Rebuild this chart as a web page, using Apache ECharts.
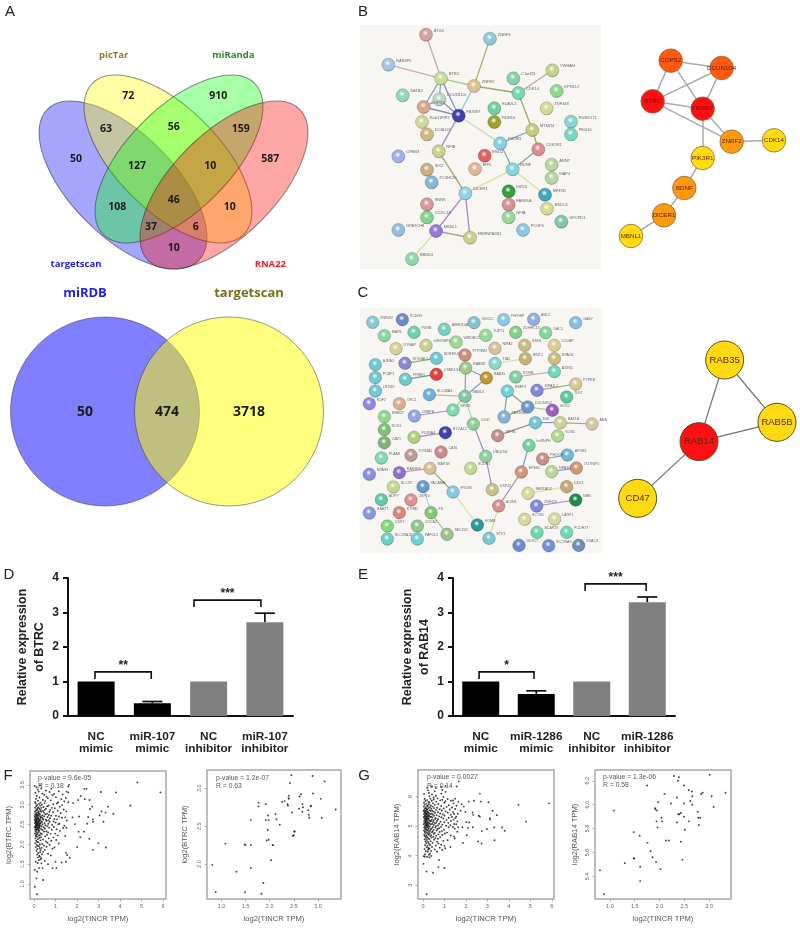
<!DOCTYPE html>
<html><head><meta charset="utf-8">
<style>html,body{margin:0;padding:0;background:#fff}#c{width:800px;height:929px;filter:blur(0.4px)}</style>
<script src="https://cdn.jsdelivr.net/npm/echarts@6/dist/echarts.min.js"></script>
</head><body><div id="c"></div>
<script>
// ---------- DATA ----------
const panelLetters = ['A','B','C','D','E','F','G'];
const venn4Names = ['targetscan','picTar','miRanda','RNA22'];
const venn4Values = [72,910,63,56,159,50,127,10,587,46,108,10,37,6,10];
const venn2Names = ['miRDB','targetscan'];
const venn2Values = [50,474,3718];

const barCatsD = ['NC\nmimic','miR-107\nmimic','NC\ninhibitor','miR-107\ninhibitor'];
const barValsD = [1,0.37,1,2.72];
const barErrD  = [null,0.42,null,2.98];
const barCatsE = ['NC\nmimic','miR-1286\nmimic','NC\ninhibitor','miR-1286\ninhibitor'];
const barValsE = [1,0.64,1,3.3];
const barErrE  = [null,0.73,null,3.45];
const starsD = ['**','***'];
const starsE = ['*','***'];
const bracketsD = [[-0.02,0.98,1.28,1.07],[1.74,2.93,3.36,3.16]];
const bracketsE = [[-0.03,0.96,1.28,1.07],[1.88,2.98,3.83,3.62]];

const statsF1 = ['p-value = 9.6e-05','R = 0.18'];
const statsF2 = ['p-value = 1.2e-07','R = 0.63'];
const statsG1 = ['p-value = 0.0027','R = 0.14'];
const statsG2 = ['p-value = 1.3e-06','R = 0.58'];

const f1Sparse = [[4.81,3.56],[5.88,3.31],[3.81,3.31],[3.11,3.32],[2.33,3.40],[2.44,3.40],[2.17,3.22],[4.48,2.98],[3.45,2.95],[3.69,2.77],[3.33,2.80],[3.14,2.83],[3.05,2.73],[3.23,2.57],[2.74,2.57],[2.74,2.63],[2.52,2.69],[2.60,2.89],[2.71,2.95],[2.58,3.12],[2.36,3.14],[2.05,3.12],[1.82,3.04],[1.59,3.06],[1.63,3.50],[1.59,3.46],[1.51,3.33],[1.59,3.31],[2.10,2.70],[1.79,2.68],[2.47,2.52],[1.90,2.51],[2.32,2.32],[2.07,2.32],[2.15,2.18],[2.57,2.14],[2.99,2.03],[3.34,1.92],[2.01,1.93],[2.74,1.86],[1.49,1.79],[1.54,1.73],[1.66,1.66],[1.48,1.56],[1.28,1.54],[1.00,1.56],[1.04,1.40],[0.86,1.40],[0.65,1.50],[0.39,1.40],[0.23,1.40],[0.42,1.10],[0.11,1.14],[0.03,0.93],[0.14,0.74],[0.03,1.35],[0.14,1.31],[0.34,1.52]];
const f1Dense = [[0.03,3.47],[0.12,3.44],[0.28,3.49],[0.17,3.38],[0.33,3.41],[0.55,3.36],[0.8,3.4],[0.06,3.3],[0.22,3.33],[0.38,3.28],[0.72,3.32],[0.93,3.27],[1.15,3.34],[0.13,3.22],[0.47,3.25],[0.58,3.2],[0.85,3.24],[1.33,3.26],[0.09,3.15],[0.25,3.18],[0.41,3.12],[0.64,3.16],[1.02,3.19],[1.27,3.14],[1.48,3.17],[0.05,3.07],[0.18,3.1],[0.3,3.05],[0.52,3.09],[0.78,3.11],[1.12,3.06],[1.41,3.08],[0.07,3.03],[0.14,2.99],[0.23,3.02],[0.36,3.0],[0.49,3.04],[0.68,2.98],[0.9,3.01],[1.06,3.03],[1.31,2.99],[0.1,2.96],[0.2,2.93],[0.28,2.97],[0.44,2.94],[0.61,2.96],[0.83,2.92],[1.2,2.95],[0.05,2.92],[0.12,2.88],[0.17,2.91],[0.26,2.89],[0.34,2.92],[0.55,2.9],[0.75,2.87],[0.97,2.91],[1.38,2.88],[0.08,2.85],[0.15,2.87],[0.22,2.83],[0.31,2.86],[0.42,2.84],[0.5,2.87],[0.71,2.82],[1.1,2.85],[1.5,2.83],[0.04,2.82],[0.1,2.79],[0.18,2.81],[0.25,2.78],[0.33,2.82],[0.46,2.8],[0.6,2.77],[0.88,2.81],[1.24,2.79],[0.06,2.76],[0.13,2.74],[0.2,2.77],[0.27,2.75],[0.38,2.73],[0.52,2.76],[0.69,2.74],[1.02,2.72],[0.03,2.71],[0.09,2.73],[0.15,2.69],[0.22,2.72],[0.29,2.7],[0.36,2.68],[0.47,2.71],[0.63,2.69],[0.8,2.72],[1.16,2.7],[1.45,2.68],[0.05,2.67],[0.11,2.64],[0.17,2.66],[0.24,2.63],[0.31,2.67],[0.41,2.65],[0.55,2.62],[0.74,2.66],[0.95,2.64],[1.3,2.67],[0.03,2.62],[0.08,2.59],[0.14,2.61],[0.19,2.63],[0.26,2.6],[0.34,2.58],[0.43,2.62],[0.58,2.59],[0.67,2.61],[0.9,2.58],[1.07,2.63],[1.52,2.6],[0.06,2.56],[0.1,2.58],[0.16,2.55],[0.21,2.57],[0.28,2.54],[0.37,2.56],[0.49,2.53],[0.72,2.57],[1.0,2.55],[1.18,2.52],[0.04,2.53],[0.09,2.5],[0.13,2.52],[0.18,2.49],[0.24,2.51],[0.3,2.53],[0.39,2.5],[0.53,2.48],[0.66,2.52],[0.84,2.49],[1.12,2.51],[1.41,2.47],[0.07,2.47],[0.12,2.45],[0.17,2.48],[0.23,2.44],[0.27,2.47],[0.35,2.45],[0.45,2.43],[0.62,2.46],[0.92,2.44],[1.5,2.42],[0.03,2.43],[0.08,2.41],[0.15,2.43],[0.2,2.39],[0.26,2.41],[0.33,2.38],[0.5,2.4],[0.7,2.42],[1.05,2.38],[1.36,2.41],[0.05,2.37],[0.11,2.35],[0.18,2.38],[0.24,2.34],[0.4,2.36],[0.57,2.33],[0.82,2.37],[1.2,2.34],[0.07,2.32],[0.13,2.29],[0.21,2.31],[0.3,2.28],[0.46,2.32],[0.65,2.3],[0.98,2.27],[0.04,2.27],[0.1,2.24],[0.16,2.26],[0.27,2.23],[0.36,2.26],[0.6,2.24],[0.77,2.27],[1.1,2.22],[0.08,2.21],[0.14,2.19],[0.22,2.22],[0.33,2.18],[0.52,2.2],[0.9,2.17],[1.45,2.21],[0.06,2.15],[0.18,2.13],[0.25,2.16],[0.42,2.12],[0.68,2.15],[1.03,2.11],[0.1,2.09],[0.15,2.06],[0.3,2.1],[0.55,2.07],[0.8,2.09],[0.05,2.03],[0.2,2.05],[0.38,2.01],[0.62,2.04],[1.15,2.02],[0.12,1.99],[0.17,1.96],[0.27,2.0],[0.46,1.97],[0.72,1.99],[0.08,1.93],[0.22,1.95],[0.35,1.91],[0.58,1.94],[0.95,1.92],[0.15,1.88],[0.26,1.9],[0.5,1.86],[0.85,1.89],[0.11,1.83],[0.3,1.85],[0.42,1.81],[0.19,1.78],[0.28,1.8],[0.65,1.76],[0.14,1.74],[0.24,1.71],[0.37,1.75],[0.78,1.72],[0.18,1.67],[0.27,1.69],[0.33,1.65],[0.22,1.6],[0.3,1.62],[0.5,1.58],[0.08,1.56],[0.17,1.53],[0.16,2.74],[0.12,2.7],[0.2,2.66],[0.09,2.65],[0.14,2.56],[0.19,2.53],[0.11,2.48],[0.22,2.46],[0.06,2.44],[0.16,2.42],[0.12,2.38],[0.21,2.36],[0.07,2.6],[0.24,2.59],[0.29,2.62],[0.1,2.54],[0.26,2.5]];
const f2Points = [[2.45,3.17],[2.89,3.16],[2.42,3.07],[3.14,3.09],[2.90,2.93],[2.40,2.90],[2.65,2.92],[2.62,2.89],[3.06,2.86],[2.40,2.86],[2.39,2.87],[2.31,2.83],[2.26,2.82],[2.37,2.79],[2.38,2.77],[1.77,2.81],[1.77,2.76],[1.92,2.79],[2.68,2.79],[2.86,2.77],[2.85,2.76],[2.61,2.73],[2.69,2.75],[2.80,2.71],[2.68,2.69],[3.37,2.72],[2.46,2.68],[2.12,2.66],[2.81,2.65],[2.82,2.61],[1.97,2.64],[1.92,2.58],[1.98,2.58],[1.61,2.58],[2.14,2.59],[3.08,2.61],[2.21,2.52],[1.96,2.45],[2.52,2.43],[2.51,2.43],[2.50,2.38],[2.48,2.37],[1.98,2.32],[1.94,2.31],[1.08,2.27],[1.48,2.26],[1.50,2.25],[1.61,2.25],[2.06,2.25],[2.07,2.25],[2.03,2.05],[0.81,1.99],[1.31,1.90],[1.61,1.95],[1.87,1.75],[0.88,1.63],[1.49,1.63],[1.83,1.61]];
const g1Sparse = [[5.87,5.77],[4.45,5.72],[4.80,5.15],[2.65,6.10],[1.67,6.51],[1.57,6.34],[3.05,5.81],[2.37,5.86],[2.13,5.83],[2.69,5.83],[3.24,5.52],[3.44,5.37],[3.12,5.27],[3.12,5.22],[2.65,5.32],[2.60,5.35],[2.31,5.46],[2.34,5.38],[1.98,5.48],[2.02,5.14],[2.15,5.12],[1.84,4.96],[1.64,4.96],[2.09,4.94],[2.32,4.96],[2.74,4.83],[2.98,4.90],[3.32,4.95],[3.69,4.95],[3.80,4.84],[2.04,4.69],[3.33,4.52],[1.87,4.43],[2.57,4.48],[2.73,4.41],[1.48,4.58],[1.28,4.29],[1.04,4.25],[0.75,3.85],[0.72,3.61],[1.00,3.58],[0.47,3.42],[0.17,3.46],[0.02,3.72],[0.17,2.69],[0.08,3.97],[0.39,3.99],[0.90,4.20]];
const g1Dense = [[0.2,6.3],[0.42,6.34],[0.6,6.29],[0.85,6.33],[1.05,6.36],[0.24,6.21],[0.55,6.18],[0.9,6.22],[1.05,6.16],[0.05,6.09],[0.28,6.12],[0.42,6.07],[0.85,6.1],[0.3,6.01],[0.5,5.97],[0.6,6.03],[0.95,5.99],[0.08,5.92],[0.2,5.88],[0.35,5.93],[0.5,5.9],[0.68,5.94],[0.9,5.89],[1.15,5.92],[1.4,5.87],[1.5,5.93],[0.12,5.85],[0.26,5.82],[0.41,5.86],[0.62,5.83],[0.8,5.87],[1.05,5.84],[1.3,5.86],[1.65,5.82],[0.05,5.79],[0.16,5.76],[0.3,5.8],[0.47,5.77],[0.72,5.75],[1.0,5.79],[1.42,5.77],[1.8,5.74],[0.08,5.72],[0.2,5.69],[0.27,5.73],[0.37,5.7],[0.55,5.72],[0.85,5.68],[1.2,5.71],[1.56,5.69],[0.04,5.66],[0.13,5.63],[0.22,5.67],[0.33,5.64],[0.45,5.66],[0.66,5.62],[1.1,5.65],[1.35,5.63],[1.9,5.66],[0.1,5.6],[0.17,5.58],[0.26,5.61],[0.39,5.59],[0.52,5.61],[0.78,5.57],[0.97,5.6],[1.5,5.58],[0.06,5.55],[0.14,5.53],[0.2,5.56],[0.3,5.54],[0.43,5.52],[0.6,5.55],[0.88,5.53],[1.25,5.56],[1.75,5.52],[0.03,5.51],[0.11,5.48],[0.18,5.5],[0.24,5.47],[0.35,5.51],[0.49,5.49],[0.7,5.47],[1.05,5.5],[1.4,5.48],[0.08,5.45],[0.15,5.43],[0.22,5.46],[0.28,5.44],[0.4,5.42],[0.56,5.45],[0.8,5.43],[1.15,5.46],[1.62,5.42],[0.05,5.41],[0.12,5.38],[0.19,5.4],[0.26,5.37],[0.33,5.41],[0.46,5.39],[0.64,5.37],[0.92,5.4],[1.3,5.38],[1.45,5.41],[0.09,5.35],[0.16,5.33],[0.21,5.36],[0.29,5.34],[0.38,5.32],[0.52,5.35],[0.75,5.33],[1.0,5.36],[1.55,5.32],[0.04,5.31],[0.11,5.28],[0.18,5.3],[0.24,5.27],[0.34,5.31],[0.44,5.29],[0.6,5.27],[0.86,5.3],[1.2,5.28],[1.35,5.31],[1.5,5.27],[0.07,5.25],[0.14,5.23],[0.2,5.26],[0.27,5.24],[0.41,5.22],[0.57,5.25],[0.7,5.23],[0.95,5.26],[1.42,5.22],[0.1,5.2],[0.16,5.18],[0.23,5.21],[0.31,5.19],[0.37,5.17],[0.5,5.2],[0.66,5.18],[1.1,5.21],[1.3,5.17],[0.05,5.16],[0.13,5.13],[0.19,5.15],[0.26,5.12],[0.35,5.16],[0.47,5.14],[0.62,5.12],[0.82,5.15],[1.0,5.13],[1.6,5.16],[0.08,5.1],[0.15,5.08],[0.22,5.11],[0.3,5.09],[0.43,5.07],[0.55,5.1],[0.76,5.08],[1.18,5.11],[1.45,5.07],[0.04,5.06],[0.12,5.03],[0.18,5.05],[0.25,5.02],[0.36,5.06],[0.51,5.04],[0.7,5.02],[0.9,5.05],[1.28,5.03],[1.55,5.06],[0.09,5.0],[0.16,4.98],[0.23,5.01],[0.32,4.99],[0.46,4.97],[0.6,5.0],[0.84,4.98],[1.08,5.01],[1.4,4.97],[0.06,4.95],[0.13,4.93],[0.2,4.96],[0.28,4.94],[0.4,4.92],[0.58,4.95],[0.75,4.93],[1.2,4.96],[0.1,4.9],[0.17,4.88],[0.25,4.91],[0.36,4.89],[0.5,4.87],[0.68,4.9],[0.98,4.88],[1.48,4.91],[0.05,4.85],[0.14,4.83],[0.22,4.86],[0.33,4.84],[0.45,4.82],[0.64,4.85],[0.88,4.83],[0.08,4.8],[0.19,4.78],[0.27,4.81],[0.42,4.79],[0.55,4.77],[0.78,4.8],[1.12,4.78],[1.6,4.81],[0.12,4.75],[0.24,4.73],[0.31,4.76],[0.5,4.74],[0.72,4.72],[1.02,4.75],[0.06,4.7],[0.16,4.68],[0.28,4.71],[0.38,4.69],[0.62,4.67],[0.9,4.7],[1.3,4.68],[0.1,4.65],[0.2,4.63],[0.34,4.66],[0.48,4.64],[0.8,4.62],[1.45,4.65],[0.14,4.6],[0.25,4.58],[0.4,4.61],[0.58,4.59],[0.7,4.57],[0.08,4.55],[0.18,4.53],[0.3,4.56],[0.52,4.54],[1.15,4.52],[0.12,4.48],[0.24,4.46],[0.36,4.49],[0.66,4.47],[0.95,4.5],[0.16,4.42],[0.28,4.4],[0.45,4.43],[0.72,4.41],[0.1,4.35],[0.21,4.33],[0.33,4.36],[0.6,4.34],[0.85,4.37],[1.0,4.33],[0.17,4.28],[0.26,4.26],[0.42,4.29],[0.78,4.27],[0.07,4.22],[0.24,4.2],[0.3,4.23],[0.55,4.21],[0.13,4.15],[0.22,4.13],[0.38,4.16],[0.66,4.14],[0.1,4.05],[0.28,4.03],[0.33,4.07],[0.04,3.98],[0.19,3.96],[0.3,3.94],[0.15,5.42],[0.1,5.33],[0.17,5.25],[0.13,5.16],[0.22,5.07],[0.16,5.03],[0.1,5.5],[0.25,5.32]];
const g2Points = [[2.29,6.24],[2.39,6.23],[3.01,6.25],[2.37,6.20],[1.75,6.16],[2.49,6.16],[2.59,6.12],[2.65,6.11],[2.10,6.09],[3.33,6.10],[2.84,6.09],[2.87,6.10],[3.05,6.07],[2.35,6.06],[2.66,6.07],[2.62,6.03],[1.97,6.02],[2.23,6.01],[2.49,6.01],[2.66,6.00],[3.09,5.98],[1.91,5.97],[1.92,5.96],[1.95,5.95],[1.08,5.95],[2.77,5.94],[2.43,5.93],[2.38,5.92],[2.40,5.92],[2.49,5.90],[2.04,5.89],[2.82,5.89],[2.78,5.89],[1.94,5.86],[2.05,5.86],[2.59,5.86],[2.35,5.85],[2.79,5.83],[1.96,5.81],[2.51,5.79],[1.48,5.77],[1.60,5.74],[2.13,5.70],[2.19,5.70],[2.43,5.69],[1.76,5.68],[1.82,5.61],[1.86,5.56],[1.49,5.55],[1.48,5.55],[2.46,5.54],[1.93,5.52],[1.30,5.51],[1.61,5.48],[2.02,5.46],[0.80,5.45],[1.61,5.36],[0.88,5.25]];

const xNameScatter = 'log2(TINCR TPM)';
const yNames = ['log2(BTRC TPM)','log2(BTRC TPM)','log2(RAB14 TPM)','log2(RAB14 TPM)'];
const ticksF1X = [0,1,2,3,4,5,6], ticksF1Y = [1,1.5,2,2.5,3,3.5];
const ticksF2X = [1,1.5,2,2.5,3], ticksF2Y = [2,2.5,3];
const ticksG1X = [0,1,2,3,4,5,6], ticksG1Y = [3,4,5,6];
const ticksG2X = [1,1.5,2,2.5,3], ticksG2Y = [5.4,5.6,5.8,6,6.2];

// Network gene names, colours
const bLeftNames = ['BTG2','ZNRF3','RASSF5','BTRC','YWHAH','C1orf23','ZNRF2','CDK14','EPN1L2','SATB2','DCUN1D4','COPS2','ELAVL2','ZNF448','FBXW7','RDH10','RUNX1T1','Rab11FIP2','MTMR4','PEG10','DCBLD2','PIK3R1','CDK5R1','CPEB3','NFIB','ENO2','ARNT','SIX2','EIF5','BDNF','MAP4','ZC3H12C','DICER1','KIF23','MEF2D','SNRK','FAM91A','BSDC1','CCDC18','NFIA','GPCPD1','GPATCH8','MBNL1','PCGF5','HNRNPA2B1','RBM24'];
const bLeftColors = ['#d4a0a0','#90c8d8','#a8c4e4','#c4dc9c','#c4d48c','#88d4a8','#dcc490','#78d8b0','#90d890','#98d4b8','#b8d8c8','#d8a888','#70d0a0','#d8d898','#4040b0','#a0a030','#88d4d4','#ccd89c','#c8c888','#78d8c8','#d0bc80','#88d0e0','#d89090','#a0b0e8','#ccd08c','#e06060','#bcd4a0','#c8b080','#e0b898','#88d4e0','#b0d8a0','#88b8d8','#90d4e8','#30a040','#40a8b8','#d898a0','#d89090','#d8d898','#80d888','#98d898','#80c8a8','#98bce0','#9878e0','#88c8e0','#ccd08c','#90d8a8'];
const bLeftEdges = [['BTG2','BTRC','#c8a8b8'],['RASSF5','BTRC','#d0a8b8'],['ZNRF3','ZNRF2','#a8b070'],['BTRC','ZNRF2','#a8c890'],['ZNRF2','CDK14','#a0a868'],['YWHAH','CDK14','#d0a0a8'],['CDK14','MTMR4','#a0a868'],['BTRC','COPS2','#9098c8'],['BTRC','FBXW7','#8890c8'],['BTRC','DCUN1D4','#88a8c8'],['COPS2','FBXW7','#8888b8'],['COPS2','DCUN1D4','#98a8b8'],['DCUN1D4','FBXW7','#8890b8'],['COPS2','Rab11FIP2','#c8d8a0'],['ZNRF2','FBXW7','#90c8e0'],['FBXW7','NFIB','#a890b8'],['FBXW7','PIK3R1','#d0d8a0'],['NFIB','DICER1','#a0a868'],['MTMR4','PIK3R1','#80a8c0'],['MTMR4','CDK5R1','#a0a868'],['CDK5R1','BDNF','#80a8a0'],['PIK3R1','BDNF','#70b8a0'],['BDNF','DICER1','#d8e0a0'],['BDNF','MEF2D','#d8e0a0'],['DICER1','MBNL1','#a888c8'],['DICER1','HNRNPA2B1','#a888b8'],['MBNL1','HNRNPA2B1','#a898a8'],['MBNL1','RBM24','#d8e0a0']];

const bRightNames = ['COPS2','DCUN1D4','BTRC','FBXW7','ZNRF2','CDK14','PIK3R1','BDNF','DICER1','MBNL1'];
const bRightColors = ['#ff5a10','#ff5a10','#ff0f14','#ff0f14','#ff9a10','#ffdc10','#ffdc10','#ff9a10','#ff9a10','#ffdc10'];
const bRightEdges = [['COPS2','DCUN1D4'],['COPS2','BTRC'],['COPS2','FBXW7'],['DCUN1D4','BTRC'],['DCUN1D4','FBXW7'],['BTRC','FBXW7'],['BTRC','ZNRF2'],['FBXW7','ZNRF2'],['FBXW7','PIK3R1'],['ZNRF2','CDK14'],['PIK3R1','BDNF'],['BDNF','DICER1'],['DICER1','MBNL1']];

const cLeftNames = ['ZNF592','PCDH9','MAP6','PURB','ABHD10A','UNC5C','PHYHIP','ABL2','GAS7','ZDHHC15','OAC1','DYNAP','eRNOBP3','WWDEC2','TUFT1','NIPA2','SSH1','CD2AP','DPAG1','WNT1','PTPRM3','ST3GAL1','SDR39U1','RAB8B','AJRA1','TIA1','ATXN1','PCBP1','PPME1','CSNK1G1','RAB35','RORB','LRTM2','REEP1','SIPA1L1','PTPRB','TLF2','SLC38A4','RAB14','KDF2','ORC1','DCUN1D2','GOS2','NPM3','RBM27','OSBPB','PBXDN1','CD47','DBI','BAZ1B','ARA','SCD1','PLXNA4','NYCAL2','TAFRL','GCN1','CAV1','hnRNPH','PLAA8','TOR4A1','CASL','UBQLN1','PHOCH','APOB1','NPAS3','RASSF9','MAP1B','SCDH1','EPS81','NPASC','OUTNIP1','SLC25','PACAMB','HYDIN','USP42','SERTAD2','DDX1','NBN','ADPY','USP10','ZNF423','ACIN1','RAB27','KTRB2','FS','SCYB1','LARP1','CDK7','CDCA2','VOMB','SEC24C','BCAP29','PCDH17','SLC39A10','PAFOL2','ETV1','DDX17','SLC39A9','VDAC3'];
const cLeftColors = ['#88c8d8','#7088c8','#88d8a0','#70d0b0','#78d0c0','#88c0d0','#88c8e0','#90b0e0','#88c0e0','#80d090','#80d898','#d8d098','#ccd08c','#a0d898','#98d898','#d8c0a0','#ccbc80','#d8d090','#ccbc80','#c8b078','#c89080','#8888d0','#70c8d0','#a0c890','#70c8d0','#88d8d0','#70d8b8','#70c8d0','#70c8c8','#e04040','#c09830','#80d0a0','#70c8d0','#70d0d8','#8088e0','#d8c898','#60c8a0','#70b0d8','#80c8a0','#9088e0','#d8b090','#7098d0','#9860c0','#80d8a8','#90d890','#90a8e8','#88b0d8','#90d090','#70c8d0','#ccd09c','#d8c8a0','#80c080','#b0d080','#4040b0','#c09090','#b0d890','#80b080','#70d0a0','#80d8b8','#c09898','#d08888','#90d0a0','#c89088','#70b8d8','#8890e0','#9070c8','#d8c098','#c0d890','#d09878','#b8d8a0','#d09878','#c0d890','#6898d0','#88c8e0','#c8c088','#d8d8a0','#c8a878','#208848','#60c8a8','#e09090','#8088e0','#d89090','#8898e0','#d88878','#80c878','#d8d8a0','#d8d8a0','#80d880','#90c890','#309898','#a0c090','#70d8b0','#70d8b8','#70d0c0','#70d0d0','#78c8d8','#7088d8','#7090d8','#7090b8'];
const cLeftEdges = [['ST3GAL1','SDR39U1','#80b860'],['PPME1','CSNK1G1','#60a090'],['PTPRM3','RAB8B','#c0c0a0'],['RAB8B','RAB35','#8898d0'],['RAB8B','RAB14','#8098e0'],['RAB14','RAB35','#8098e0'],['SLC38A4','RAB14','#d0b0a8'],['RAB14','NPM3','#a0c890'],['RAB14','CD47','#a8d8a8'],['CD47','UBQLN1','#9890b8'],['UBQLN1','USP42','#a890b8'],['OSBPB','NPM3','#a890b8'],['PLXNA4','NYCAL2','#a890b8'],['TIA1','WNT1','#d8e0a0'],['RORB','ATXN1','#d0a0b0'],['SIPA1L1','PTPRB','#a0a868'],['REEP1','PBXDN1','#70a880'],['REEP1','DCUN1D2','#70a880'],['PBXDN1','DCUN1D2','#70a880'],['DCUN1D2','GOS2','#90d0a0'],['TAFRL','DBI','#a89090'],['DBI','BAZ1B','#8098c0'],['BAZ1B','ARA','#a0a868'],['hnRNPH','EPS81','#9090c0'],['EPS81','ACIN1','#a090a0'],['ACIN1','ETV1','#d8e0a0'],['PHOCH','APOB1','#9090b0'],['NPASC','OUTNIP1','#9090c0'],['SERTAD2','DDX1','#d8e0a0'],['ZNF423','NBN','#a890b8'],['RASSF9','MAP1B','#d0a0b0'],['MAP1B','HYDIN','#a0a868'],['HYDIN','VOMB','#d8e0a0'],['PACAMB','FS','#b0d0e0'],['FS','SEC24C','#a0c890']];

const cRightNames = ['RAB35','RAB5B','RAB14','CD47'];
const cRightColors = ['#ffd912','#ffd912','#ff0f14','#ffd912'];
const cRightEdges = [['RAB35','RAB14'],['RAB35','RAB5B'],['RAB14','RAB5B'],['RAB14','CD47']];

// ---------- LAYOUT (page placement, pixels) ----------
const bLeftAt = [[228,104],[420,116],[115,194],[273,235],[607,211],[490,235],[372,258],[505,279],[620,273],[158,286],[268,298],[221,321],[433,325],[590,325],[326,347],[433,366],[663,365],[216,366],[547,390],[663,403],[231,403],[451,430],[565,448],[145,469],[266,454],[404,467],[605,494],[231,509],[375,507],[488,508],[605,534],[245,547],[346,580],[476,574],[585,584],[231,613],[476,614],[591,626],[231,652],[476,652],[634,665],[145,690],[258,693],[519,690],[360,713],[186,777]];
const bRightAt = [[962,182],[1115,204],[908,304],[1058,326],[1145,425],[1272,421],[1058,474],[1003,564],[942,646],[843,708]];
const cLeftAt = [[68,127],[157,119],[103,167],[192,157],[283,148],[372,128],[461,119],[551,118],[677,128],[497,157],[587,158],[138,206],[228,196],[318,186],[407,166],[435,205],[524,196],[613,196],[613,236],[526,236],[345,225],[165,250],[259,235],[347,264],[76,254],[435,250],[613,275],[76,293],[166,298],[259,283],[409,294],[497,291],[76,333],[472,333],[561,331],[677,312],[650,351],[238,344],[345,349],[58,371],[148,371],[533,381],[607,391],[309,390],[103,410],[193,408],[462,411],[370,432],[556,428],[631,428],[726,432],[103,449],[192,472],[286,458],[443,467],[623,468],[103,488],[537,496],[94,534],[183,526],[273,516],[407,529],[578,537],[652,525],[58,583],[148,578],[240,565],[362,565],[514,576],[605,575],[679,564],[130,621],[219,620],[309,636],[427,629],[534,640],[650,620],[677,660],[94,659],[183,660],[560,678],[446,678],[58,699],[148,698],[243,698],[524,718],[614,717],[112,738],[202,738],[382,735],[291,763],[561,757],[650,757],[112,777],[202,777],[417,775],[507,796],[596,797],[686,796]];
const cRightAt = [[1124,240],[1281,427],[1047,485],[863,655]];
const venn4At = [[385,287],[655,287],[318,388],[521,380],[722,388],[228,477],[411,499],[631,499],[811,477],[521,600],[352,622],[689,622],[453,681],[587,681],[521,745]];
const FONT_SANS = '"Liberation Sans",Arial,sans-serif';
const FONT_VENN = '"Open Sans","Noto Sans",sans-serif';

const pageText = [];
const addT = (text,x,y,size,weight,fill,font,align) => pageText.push({text:String(text),x,y,size,weight,fill,font:font||FONT_SANS,align:align||'center'});
[[10,12],[363,12],[363,293],[9,575],[363,575],[8,776],[364,776]].forEach((p,i)=>addT(panelLetters[i],p[0],p[1],15,'normal','#222'));
venn4Values.forEach((v,i)=>addT(v,venn4At[i][0]/3,venn4At[i][1]/3,10.5,'bold','#1a1a1a',FONT_VENN));
addT(venn4Names[1],341/3,165/3,9.5,'bold','#8a7a20',FONT_VENN);
addT(venn4Names[2],700/3,165/3,9.5,'bold','#2a8a2a',FONT_VENN);
addT(venn4Names[0],228/3,792/3,9.5,'bold','#2020e0',FONT_VENN);
addT(venn4Names[3],811/3,792/3,9.5,'bold','#e82030',FONT_VENN);
addT(venn2Names[0],85,293,13,'bold','#2020e0',FONT_VENN);
addT(venn2Names[1],249,293,13,'bold','#77701a',FONT_VENN);
[[85,412],[167,412],[249,412]].forEach((p,i)=>addT(venn2Values[i],p[0],p[1],14,'bold','#1a1a1a',FONT_VENN));
[[statsF1,38,778,786],[statsF2,216,778,786],[statsG1,427,777,786],[statsG2,603,777,785]].forEach(s=>{
  addT(s[0][0],s[1],s[2],6.8,'normal','#555',FONT_SANS,'left');
  addT(s[0][1],s[1],s[3],6.8,'normal','#555',FONT_SANS,'left');
});

const ellipses = [
 {cx:123,cy:185,rot:-Math.PI/4,fill:'rgba(0,0,255,0.35)'},
 {cx:168,cy:159,rot:-Math.PI/4,fill:'rgba(255,255,0,0.35)'},
 {cx:179,cy:159,rot:Math.PI/4,fill:'rgba(0,255,0,0.35)'},
 {cx:224,cy:185,rot:Math.PI/4,fill:'rgba(255,0,0,0.35)'}
];
const circles = [{cx:105,cy:411.5,fill:'rgba(0,0,255,0.5)'},{cx:229,cy:411.5,fill:'rgba(255,255,0,0.5)'}];
const panels = [[360,25,241,244],[360,308,243,245]];

// ---------- HELPERS ----------
const shade = (hex,f)=>{const n=parseInt(hex.slice(1),16);return 'rgb('+[n>>16,(n>>8)&255,n&255].map(c=>Math.round(c*f)).join(',')+')';};
const chart = echarts.init(document.getElementById('c'),null,{renderer:'canvas'});

const grids=[{left:0,top:0,width:800,height:929,show:false}];
const xAxes=[{gridIndex:0,type:'value',min:0,max:800,show:false}];
const yAxes=[{gridIndex:0,type:'value',min:0,max:929,inverse:true,show:false}];
const series=[];

const pageSeries=(name,z,list,fn)=>({type:'custom',name,coordinateSystem:'cartesian2d',xAxisIndex:0,yAxisIndex:0,z,silent:true,animation:false,clip:false,
  data:list.map((_,i)=>[i,0]),renderItem:(p,api)=>fn(list[p.dataIndex],api)});

series.push(pageSeries('panels',1,panels,(r,api)=>{
  const a=api.coord([r[0],r[1]]);
  return {type:'rect',shape:{x:a[0],y:a[1],width:r[2],height:r[3]},style:{fill:'#f7f6f3'}};
}));
series.push(pageSeries('venn4',2,ellipses,(e,api)=>{
  const a=api.coord([e.cx,e.cy]);
  return {type:'ellipse',x:a[0],y:a[1],rotation:e.rot,shape:{cx:0,cy:0,rx:107,ry:51.5},style:{fill:e.fill,stroke:'rgba(50,50,50,0.55)',lineWidth:1}};
}));
series.push(pageSeries('venn2',2,circles,(c,api)=>{
  const a=api.coord([c.cx,c.cy]);
  return {type:'circle',shape:{cx:a[0],cy:a[1],r:94.5},style:{fill:c.fill,stroke:'rgba(50,50,50,0.5)',lineWidth:1}};
}));
series.push(pageSeries('text',20,pageText,(t,api)=>{
  const a=api.coord([t.x,t.y]);
  return {type:'text',z2:50,style:{x:a[0],y:a[1],text:t.text,fill:t.fill,fontSize:t.size,fontWeight:t.weight,fontFamily:t.font,align:t.align,verticalAlign:'middle'}};
}));

// networks
function net(names,colors,at,edges,ox,oy,opt){
  series.push({type:'graph',coordinateSystem:'cartesian2d',xAxisIndex:0,yAxisIndex:0,layout:'none',z:5,silent:true,animation:false,roam:false,
    data:names.map((n,i)=>{
      const c=colors[i];
      return {name:n,value:[ox+at[i][0]/3,oy+at[i][1]/3],symbolSize:opt.size,
        itemStyle:opt.sphere?{color:{type:'radial',x:0.45,y:0.38,r:0.62,colorStops:[{offset:0,color:'#ffffff'},{offset:0.35,color:c},{offset:0.85,color:c},{offset:1,color:shade(c,0.7)}]},borderColor:shade(c,0.6),borderWidth:0.4}
          :{color:c,borderColor:opt.border,borderWidth:opt.bw}};
    }),
    links:edges.map(e=>({source:e[0],target:e[1],lineStyle:{color:e[2]||opt.edge,width:opt.ew,opacity:1,curveness:0}})),
    label:{show:true,position:opt.lpos,offset:opt.loff,fontSize:opt.fs,color:opt.lc,fontFamily:FONT_SANS,distance:1,formatter:'{b}'},
    lineStyle:{opacity:1}
  });
}
net(bLeftNames,bLeftColors,bLeftAt,bLeftEdges,350,0,{sphere:true,size:13,ew:1.3,lpos:'right',loff:[0,-4],fs:4,lc:'#666'});
net(cLeftNames,cLeftColors,cLeftAt,cLeftEdges,350,280,{sphere:true,size:12.5,ew:1.2,lpos:'right',loff:[0,-4],fs:3.6,lc:'#666'});
net(bRightNames,bRightColors,bRightAt,bRightEdges,350,0,{size:23.5,border:'#8a6a30',bw:0.8,edge:'#aaaaaa',ew:1.5,lpos:'inside',loff:[0,0],fs:6.2,lc:'#6a1500'});
net(cRightNames,cRightColors,cRightAt,cRightEdges,350,280,{size:38,border:'#5a5020',bw:1,edge:'#707070',ew:1.2,lpos:'inside',loff:[0,0],fs:9.5,lc:'#5a2a00'});

// bar panels
function barPanel(cats,vals,errs,brackets,stars,left,width,yName){
  const gi=grids.length, xi=xAxes.length, yi=yAxes.length;
  grids.push({left,top:578,width,height:138,show:false});
  xAxes.push({gridIndex:gi,type:'category',data:cats,axisTick:{alignWithLabel:true,length:5,lineStyle:{width:2,color:'#111'}},
    axisLine:{onZero:false,lineStyle:{width:2,color:'#111'}},axisLabel:{interval:0,fontSize:11.8,fontWeight:'bold',color:'#222',fontFamily:FONT_SANS,lineHeight:12.7,margin:14}});
  xAxes.push({gridIndex:gi,type:'value',min:-0.5,max:3.5,show:false});
  yAxes.push({gridIndex:gi,type:'value',min:0,max:4,interval:1,splitLine:{show:false},axisLine:{show:true,onZero:false,lineStyle:{width:2,color:'#111'}},
    axisTick:{show:true,length:5,lineStyle:{width:2,color:'#111'}},axisLabel:{fontSize:12,fontWeight:'bold',color:'#222',fontFamily:FONT_SANS,margin:9},
    name:yName,nameLocation:'middle',nameRotate:90,nameGap:18.5,nameTextStyle:{fontSize:12.4,fontWeight:'bold',color:'#222',fontFamily:FONT_SANS,lineHeight:17.5}});
  const barColors=['#000000','#000000','#808080','#808080'];
  series.push({type:'bar',xAxisIndex:xi,yAxisIndex:yi,barWidth:37,silent:true,animation:false,z:3,
    data:vals.map((v,i)=>({value:v,itemStyle:{color:barColors[i]}}))});
  series.push({type:'custom',xAxisIndex:xi,yAxisIndex:yi,z:2,silent:true,animation:false,clip:false,
    data:errs.map((e,i)=>[i,e==null?0:e]),
    renderItem:(p,api)=>{
      const i=p.dataIndex; if(errs[i]==null) return null;
      const a=api.coord([i,vals[i]]), b=api.coord([i,errs[i]]), s={stroke:'#111',lineWidth:1.7};
      return {type:'group',children:[
        {type:'line',shape:{x1:a[0],y1:a[1],x2:b[0],y2:b[1]},style:s},
        {type:'line',shape:{x1:b[0]-10,y1:b[1],x2:b[0]+10,y2:b[1]},style:s}]};
    }});
  series.push({type:'custom',xAxisIndex:xi+1,yAxisIndex:yi,z:4,silent:true,animation:false,clip:false,
    data:brackets.map((b,i)=>[b[0],b[2]]),
    renderItem:(p,api)=>{
      const b=brackets[p.dataIndex], p0=api.coord([b[0],b[3]]), p1=api.coord([b[0],b[2]]), p2=api.coord([b[1],b[2]]), p3=api.coord([b[1],b[3]]);
      return {type:'group',children:[
        {type:'polyline',shape:{points:[p0,p1,p2,p3]},style:{stroke:'#111',lineWidth:1.6,fill:'none'}},
        {type:'text',style:{x:(p1[0]+p2[0])/2,y:p1[1]-6,text:stars[p.dataIndex],fontSize:12,fontWeight:'bold',fontFamily:FONT_SANS,fill:'#222',align:'center',verticalAlign:'middle'}}]};
    }});
}
barPanel(barCatsD,barValsD,barErrD,bracketsD,starsD,68,225,'Relative expression\nof BTRC');
barPanel(barCatsE,barValsE,barErrE,bracketsE,starsE,453,222,'Relative expression\nof RAB14');

// scatter panels
function scatterPanel(pts,box,xr,yr,xt,yt,yName,nameGapY){
  const gi=grids.length, xi=xAxes.length, yi=yAxes.length;
  grids.push({left:box[0],top:box[1],width:box[2],height:box[3],show:true,borderColor:'#a8a8a8',borderWidth:1.5,backgroundColor:'transparent'});
  const tick={show:true,length:2.5,lineStyle:{color:'#999',width:0.8}};
  xAxes.push({gridIndex:gi,type:'value',min:xr[0],max:xr[1],splitLine:{show:false},axisLine:{show:false,onZero:false},
    axisTick:Object.assign({customValues:xt},tick),axisLabel:{customValues:xt,fontSize:5.5,color:'#666',fontFamily:FONT_SANS,margin:4,showMinLabel:true,showMaxLabel:true,formatter:v=>xt.every(Number.isInteger)?String(v):v.toFixed(1)},
    name:xNameScatter,nameLocation:'middle',nameGap:16,nameTextStyle:{fontSize:7.6,color:'#555',fontFamily:FONT_SANS}});
  yAxes.push({gridIndex:gi,type:'value',min:yr[0],max:yr[1],splitLine:{show:false},axisLine:{show:false,onZero:false},
    axisTick:Object.assign({customValues:yt},tick),axisLabel:{customValues:yt,rotate:90,fontSize:5.5,color:'#666',fontFamily:FONT_SANS,margin:5,formatter:v=>yt.every(Number.isInteger)?String(v):v.toFixed(1)},
    name:yName,nameLocation:'middle',nameRotate:90,nameGap:nameGapY,nameTextStyle:{fontSize:7.6,color:'#555',fontFamily:FONT_SANS}});
  series.push({type:'scatter',xAxisIndex:xi,yAxisIndex:yi,symbolSize:1.9,itemStyle:{color:'#111'},silent:true,animation:false,z:4,data:pts,large:false});
}
scatterPanel(f1Sparse.concat(f1Dense),[30,771,136,128],[-0.19,6.14],[0.62,3.85],ticksF1X,ticksF1Y,yNames[0],17);
scatterPanel(f2Points,[207,770,134,129],[0.70,3.48],[1.54,3.24],ticksF2X,ticksF2Y,yNames[1],18);
scatterPanel(g1Sparse.concat(g1Dense),[418,770,136,129],[-0.23,6.1],[2.53,6.9],ticksG1X,ticksG1Y,yNames[2],17);
scatterPanel(g2Points,[595,770,136,129],[0.70,3.44],[5.21,6.29],ticksG2X,ticksG2Y,yNames[3],16);

chart.setOption({backgroundColor:'#ffffff',animation:false,tooltip:{show:false},grid:grids,xAxis:xAxes,yAxis:yAxes,series});
</script></body></html>
